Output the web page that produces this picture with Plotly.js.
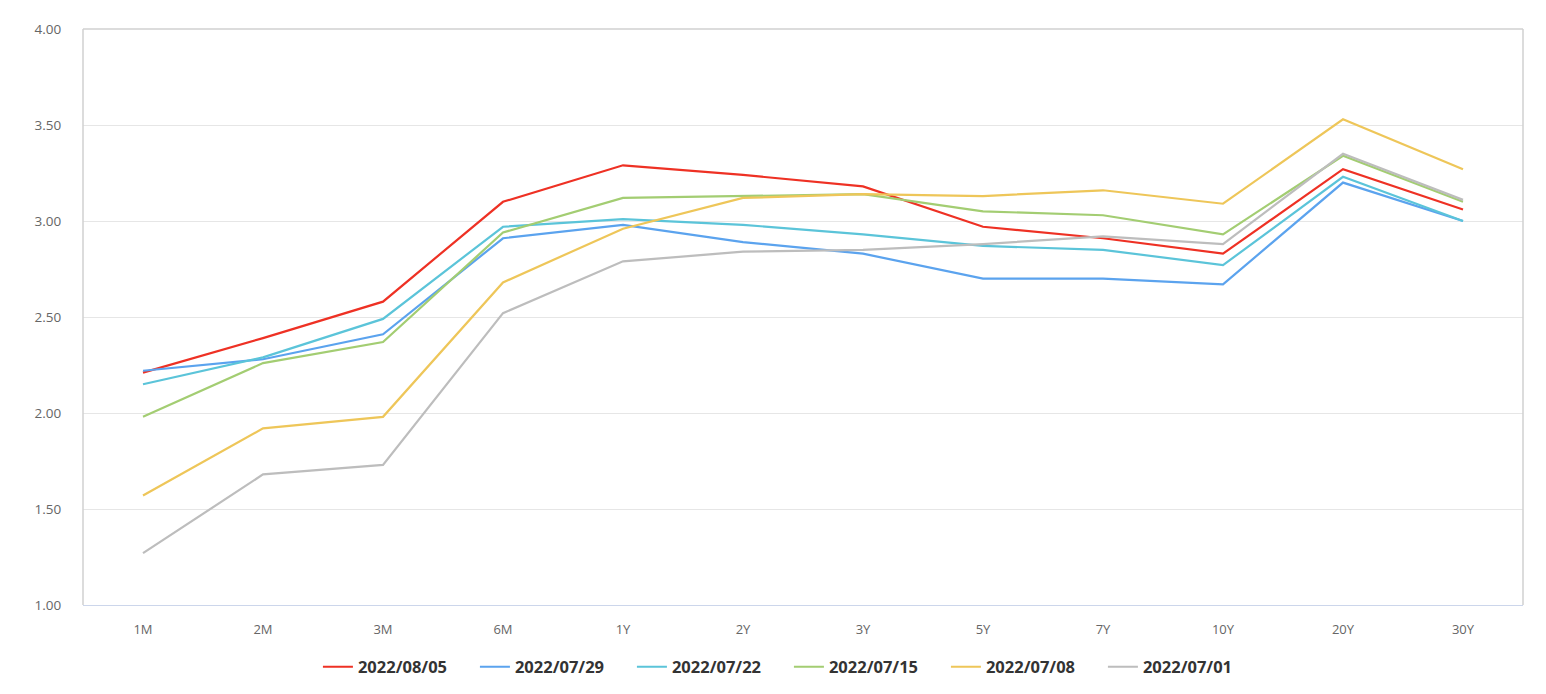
<!DOCTYPE html>
<html>
<head>
<meta charset="utf-8">
<script src="https://cdn.plot.ly/plotly-3.0.1.min.js"></script>
<style>
  html, body { margin: 0; padding: 0; background: #fff; }
  #chart { width: 1546px; height: 694px; }
</style>
</head>
<body>
<div id="chart"></div>
<script>
const tenors = ["1M", "2M", "3M", "6M", "1Y", "2Y", "3Y", "5Y", "7Y", "10Y", "20Y", "30Y"];
const seriesNames = ["2022/08/05", "2022/07/29", "2022/07/22", "2022/07/15", "2022/07/08", "2022/07/01"];
const s20220805 = [2.21, 2.39, 2.58, 3.10, 3.29, 3.24, 3.18, 2.97, 2.91, 2.83, 3.27, 3.06];
const s20220729 = [2.22, 2.28, 2.41, 2.91, 2.98, 2.89, 2.83, 2.70, 2.70, 2.67, 3.20, 3.00];
const s20220722 = [2.15, 2.29, 2.49, 2.97, 3.01, 2.98, 2.93, 2.87, 2.85, 2.77, 3.23, 3.00];
const s20220715 = [1.98, 2.26, 2.37, 2.94, 3.12, 3.13, 3.14, 3.05, 3.03, 2.93, 3.34, 3.10];
const s20220708 = [1.57, 1.92, 1.98, 2.68, 2.96, 3.12, 3.14, 3.13, 3.16, 3.09, 3.53, 3.27];
const s20220701 = [1.27, 1.68, 1.73, 2.52, 2.79, 2.84, 2.85, 2.88, 2.92, 2.88, 3.35, 3.11];
const yTickVals = [1.0, 1.5, 2.0, 2.5, 3.0, 3.5, 4.0];
const yTickText = ["1.00", "1.50", "2.00", "2.50", "3.00", "3.50", "4.00"];

const allSeries = [s20220805, s20220729, s20220722, s20220715, s20220708, s20220701];
const colors = ["#ee3124", "#5ba3ee", "#5bc4d9", "#a3cd72", "#eec659", "#bdbdbd"];

const traces = allSeries.map((vals, i) => ({
  type: "scatter",
  mode: "lines",
  x: tenors,
  y: vals,
  name: seriesNames[i],
  line: { color: colors[i], width: 2.2 },
  hoverinfo: "x+y+name"
}));

const layout = {
  width: 1546,
  height: 694,
  margin: { l: 83, r: 23, t: 29, b: 89, autoexpand: false },
  paper_bgcolor: "#ffffff",
  plot_bgcolor: "#ffffff",
  font: { family: "'Open Sans', 'Liberation Sans', Arial, sans-serif", color: "#666666", size: 13 },
  showlegend: true,
  legend: {
    orientation: "h",
    xref: "container",
    yref: "container",
    x: 0.5103, xanchor: "center",
    y: 1 - 667 / 694, yanchor: "middle",
    font: { size: 16.5, color: "#333333", family: "'Open Sans', 'Liberation Sans', Arial, sans-serif", weight: "bold" },
    itemwidth: 30,
    entrywidth: 112,
    entrywidthmode: "pixels",
    traceorder: "normal"
  },
  xaxis: {
    type: "category",
    categoryorder: "array",
    categoryarray: tenors,
    range: [-0.5, 11.5],
    showgrid: false,
    showline: true,
    linecolor: "#ccd6eb",
    linewidth: 1,
    ticks: "outside",
    ticklen: 12,
    tickcolor: "rgba(0,0,0,0)",
    tickfont: { size: 13, color: "#666666" },
    zeroline: false,
    fixedrange: true
  },
  yaxis: {
    range: [1.0, 4.0],
    tickvals: yTickVals,
    ticktext: yTickText,
    showgrid: true,
    gridcolor: "#e6e6e6",
    gridwidth: 1,
    showline: false,
    zeroline: false,
    ticks: "outside",
    ticklen: 18,
    tickcolor: "rgba(0,0,0,0)",
    tickfont: { size: 13.5, color: "#666666" },
    fixedrange: true
  },
  shapes: [
    { type: "line", xref: "paper", yref: "paper", x0: 0, x1: 0, y0: 0, y1: 1, line: { color: "#d0d0d0", width: 1.5 } },
    { type: "line", xref: "paper", yref: "paper", x0: 0, x1: 1, y0: 1, y1: 1, line: { color: "#d0d0d0", width: 1.5 } },
    { type: "line", xref: "paper", yref: "paper", x0: 1, x1: 1, y0: 0, y1: 1, line: { color: "#d0d0d0", width: 1.5 } }
  ]
};

Plotly.newPlot("chart", traces, layout, { displayModeBar: false, staticPlot: false });
</script>
</body>
</html>
